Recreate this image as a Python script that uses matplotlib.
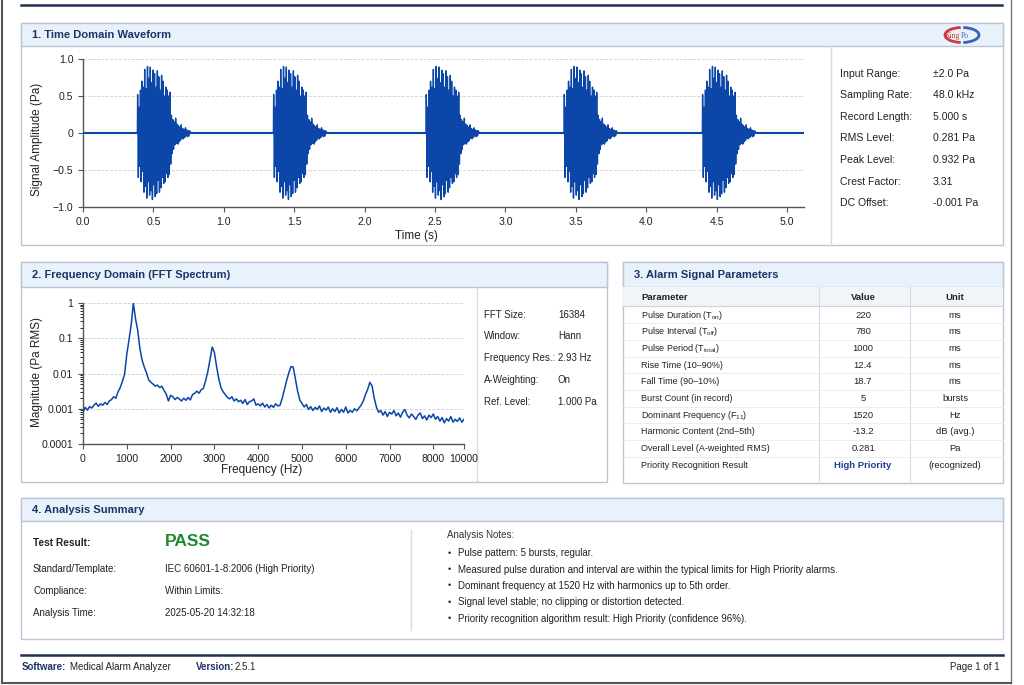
import matplotlib
matplotlib.use("Agg")
import matplotlib.pyplot as plt
from matplotlib.patches import Rectangle, Arc

plt.rcParams['font.family'] = ['Liberation Sans', 'DejaVu Sans']
plt.rcParams['mathtext.default'] = 'regular'

W, H = 1024, 685

# ---------------- data ----------------
# time domain: burst onsets (s) and the sampled burst shape (Pa), 5 ms apart
burst_starts = [0.388, 1.354, 2.438, 3.418, 4.400]
burst_step = 0.005
burst_values = [
    0.52, -0.60, 0.35, -0.45, 0.58, -0.66, 0.70, -0.52, 0.62, -0.80,
    0.86, -0.72, 0.60, -0.88, 0.90, -0.66, 0.74, -0.84, 0.89, -0.78,
    0.68, -0.90, 0.85, -0.70, 0.80, -0.86, 0.62, -0.82, 0.84, -0.64,
    0.76, -0.80, 0.58, -0.74, 0.78, -0.60, 0.70, -0.68, 0.50, -0.66,
    0.62, -0.55, 0.58, -0.60, 0.50, -0.56, 0.55, -0.42, 0.24, -0.28,
    0.18, -0.22, 0.15, -0.16, 0.20, -0.14, 0.12, -0.15, 0.10, -0.12,
    0.08, -0.10, 0.11, -0.07, 0.06, -0.08, 0.05, -0.06, 0.07, -0.04,
    0.04, -0.05, 0.03, -0.04, 0.03,
]
record_end = 5.12

time_ticks = [0, 0.5, 1.0, 1.5, 2.0, 2.5, 3.0, 3.5, 4.0, 4.5, 5.0]
time_ticklabels = ['0.0', '0.5', '1.0', '1.5', '2.0', '2.5', '3.0', '3.5', '4.0', '4.5', '5.0']
time_grid = [1, 2, 3, 4, 5]
amp_ticks = [-1.0, -0.5, 0, 0.5, 1.0]
amp_ticklabels = ['\u22121.0', '\u22120.5', '0', '0.5', '1.0']

# spectrum: FFT bins every 50 Hz, magnitude as log10(Pa RMS)
spec_freq = list(range(0, 8701, 50))
spec_log10 = [
    -3.10, -2.96, -3.04, -2.94, -2.98, -2.90, -2.84, -2.93, -2.86, -2.90,
    -2.82, -2.88, -2.78, -2.74, -2.66, -2.70, -2.52, -2.40, -2.22, -2.02,
    -1.45, -1.05, -0.62, 0.00, -0.45, -0.78, -1.30, -1.62, -1.82, -1.98,
    -2.18, -2.25, -2.30, -2.36, -2.33, -2.40, -2.36, -2.48, -2.58, -2.78,
    -2.62, -2.66, -2.74, -2.68, -2.72, -2.78, -2.70, -2.76, -2.68, -2.75,
    -2.60, -2.56, -2.50, -2.56, -2.46, -2.42, -2.20, -1.95, -1.60, -1.25,
    -1.40, -1.80, -2.15, -2.40, -2.52, -2.60, -2.68, -2.72, -2.66, -2.78,
    -2.72, -2.80, -2.76, -2.85, -2.74, -2.88, -2.80, -2.78, -2.72, -2.90,
    -2.86, -2.92, -2.84, -2.95, -2.88, -2.98, -2.90, -2.96, -2.86, -2.92,
    -2.90, -2.70, -2.45, -2.20, -1.98, -1.80, -1.82, -2.15, -2.50, -2.75,
    -2.85, -2.95, -2.88, -3.02, -2.94, -3.05, -2.96, -3.02, -2.92, -3.08,
    -2.98, -3.04, -2.95, -3.10, -3.00, -3.08, -2.97, -3.12, -3.02, -3.10,
    -2.95, -3.12, -3.05, -3.10, -3.00, -3.06, -2.98, -2.90, -2.78, -2.60,
    -2.45, -2.25, -2.35, -2.70, -2.95, -3.10, -3.05, -3.18, -3.08, -3.22,
    -3.10, -3.15, -3.05, -3.20, -3.12, -3.24, -3.10, -3.02, -3.18, -3.26,
    -3.15, -3.22, -3.30, -3.18, -3.12, -3.28, -3.20, -3.32, -3.18, -3.25,
    -3.15, -3.30, -3.22, -3.35, -3.25, -3.40, -3.28, -3.35, -3.22, -3.38,
    -3.30, -3.36, -3.26, -3.38, -3.30,
]
freq_ticks = [0, 1000, 2000, 3000, 4000, 5000, 6000, 7000, 8000, 8700]
freq_ticklabels = ['0', '1000', '2000', '3000', '4000', '5000', '6000', '7000', '8000', '10000']
freq_grid = [1000, 2000, 3000, 4000, 5000, 6000, 7000, 8000]
mag_ticks = [1e-4, 1e-3, 1e-2, 1e-1, 1]
mag_ticklabels = ['0.0001', '0.001', '0.01', '0.1', '1']

wave_info_labels = ['Input Range:', 'Sampling Rate:', 'Record Length:', 'RMS Level:',
                    'Peak Level:', 'Crest Factor:', 'DC Offset:']
wave_info_values = ['\u00b12.0 Pa', '48.0 kHz', '5.000 s', '0.281 Pa', '0.932 Pa', '3.31', '-0.001 Pa']

fft_info_labels = ['FFT Size:', 'Window:', 'Frequency Res.:', 'A-Weighting:', 'Ref. Level:']
fft_info_values = ['16384', 'Hann', '2.93 Hz', 'On', '1.000 Pa']

param_names = [r'Pulse Duration (T$_{on}$)', r'Pulse Interval (T$_{off}$)', r'Pulse Period (T$_{total}$)',
               'Rise Time (10\u201390%)', 'Fall Time (90\u201310%)', 'Burst Count (in record)',
               r'Dominant Frequency (F$_{11}$)', 'Harmonic Content (2nd\u20135th)',
               'Overall Level (A-weighted RMS)', 'Priority Recognition Result']
param_values = ['220', '780', '1000', '12.4', '18.7', '5', '1520', '-13.2', '0.281', 'High Priority']
param_units = ['ms', 'ms', 'ms', 'ms', 'ms', 'bursts', 'Hz', 'dB (avg.)', 'Pa', '(recognized)']

summary_labels = ['Standard/Template:', 'Compliance:', 'Analysis Time:']
summary_values = ['IEC 60601-1-8:2006 (High Priority)', 'Within Limits:', '2025-05-20 14:32:18']

notes = ['Pulse pattern: 5 bursts, regular.',
         'Measured pulse duration and interval are within the typical limits for High Priority alarms.',
         'Dominant frequency at 1520 Hz with harmonics up to 5th order.',
         'Signal level stable; no clipping or distortion detected.',
         'Priority recognition algorithm result: High Priority (confidence 96%).']

# ---------------- style ----------------
NAVY = '#1c3466'
BORDER = '#b9c6d8'
HEADER_BG = '#e9f1fb'
LINE = '#0b46a8'
TXT = '#222222'
GRIDC = '#cfcfcf'

fig = plt.figure(figsize=(W / 100, H / 100), dpi=100)
bg = fig.add_axes([0, 0, 1, 1])
bg.set_xlim(0, W)
bg.set_ylim(H, 0)
bg.axis('off')


def px_axes(x0, y0, x1, y1):
    return fig.add_axes([x0 / W, 1 - y1 / H, (x1 - x0) / W, (y1 - y0) / H])


def panel(x0, y0, x1, y1, hdr, title):
    bg.add_patch(Rectangle((x0, y0), x1 - x0, y1 - y0, facecolor='white', edgecolor=BORDER, lw=1.0))
    bg.add_patch(Rectangle((x0, y0), x1 - x0, hdr, facecolor=HEADER_BG, edgecolor=BORDER, lw=1.0))
    bg.text(x0 + 11, y0 + hdr / 2 + 0.5, title, fontsize=8, fontweight='bold', color=NAVY,
            ha='left', va='center')


# page frame and rules
bg.plot([2, 2], [0, 683], color='#555555', lw=1.5)
bg.plot([1011, 1011], [0, 683], color='#777777', lw=1.0)
bg.plot([2, 1011], [683, 683], color='#555555', lw=1.5)
bg.plot([21, 1002], [4.5, 4.5], color='#1f3050', lw=1.8)
bg.plot([21, 1003], [655, 655], color='#1f3050', lw=1.8)

# panels
panel(21, 23, 1003, 245, 23, '1. Time Domain Waveform')
panel(21, 262, 607, 482, 25, '2. Frequency Domain (FFT Spectrum)')
panel(623, 262, 1003, 483, 25, '3. Alarm Signal Parameters')
panel(21, 498, 1003, 639, 23, '4. Analysis Summary')

# logo
bg.add_patch(Arc((962, 35), 34, 15, theta1=100, theta2=260, color='#d0393b', lw=2.0))
bg.add_patch(Arc((962, 35), 34, 15, theta1=-80, theta2=80, color='#3a62b8', lw=2.0))
bg.text(960.5, 35.5, 'King', fontsize=5.5, color='#c0392b', ha='right', va='center',
        family=['Liberation Serif', 'DejaVu Serif'])
bg.text(960.5, 35.5, 'Po', fontsize=5.5, color='#3a62b8', ha='left', va='center',
        family=['Liberation Serif', 'DejaVu Serif'])

# ---------- panel 1 ----------
bg.plot([831, 831], [46, 245], color='#d5dbe5', lw=1.0)
for i, (lab, val) in enumerate(zip(wave_info_labels, wave_info_values)):
    y = 73.5 + i * 21.6
    bg.text(840, y, lab, fontsize=7.6, color=TXT, ha='left', va='center')
    bg.text(933, y, val, fontsize=7.6, color=TXT, ha='left', va='center')

t_list = [0.0]
v_list = [0.0]
for s in burst_starts:
    t_list.append(s - 0.002)
    v_list.append(0.0)
    for i, v in enumerate(burst_values):
        t_list.append(s + i * burst_step)
        v_list.append(v)
    t_list.append(s + len(burst_values) * burst_step)
    v_list.append(0.0)
t_list.append(record_end)
v_list.append(0.0)

ax1 = px_axes(83, 59, 804, 207)
ax1.axhline(0, color=LINE, lw=1.5, zorder=3)
ax1.plot(t_list, v_list, color=LINE, lw=1.0, zorder=4)
ax1.set_xlim(0, record_end)
ax1.set_ylim(-1, 1)
ax1.set_xticks(time_ticks)
ax1.set_xticklabels(time_ticklabels)
ax1.set_yticks(amp_ticks)
ax1.set_yticklabels(amp_ticklabels)
ax1.set_xticks(time_grid, minor=True)
ax1.tick_params(which='minor', length=0)
ax1.grid(True, which='minor', axis='x', color=GRIDC, ls='--', lw=0.6)
ax1.grid(True, which='major', axis='y', color=GRIDC, ls='--', lw=0.6)
bg.text(37, 139, 'Signal Amplitude (Pa)', rotation=90, fontsize=8.5, color=TXT, ha='center', va='center')
bg.text(416, 236, 'Time (s)', fontsize=8.5, color=TXT, ha='center', va='center')

# ---------- panel 2 ----------
bg.plot([477, 477], [287, 482], color='#d5dbe5', lw=1.0)
for i, (lab, val) in enumerate(zip(fft_info_labels, fft_info_values)):
    y = 314.5 + i * 21.8
    bg.text(484, y, lab, fontsize=7, color=TXT, ha='left', va='center')
    bg.text(558, y, val, fontsize=7, color=TXT, ha='left', va='center')

spec_mag = [10 ** v for v in spec_log10]
ax2 = px_axes(83, 303, 464, 444)
ax2.plot(spec_freq, spec_mag, color=LINE, lw=1.1, zorder=4)
ax2.set_yscale('log')
ax2.set_xlim(0, 8700)
ax2.set_ylim(1e-4, 1)
ax2.set_xticks(freq_ticks)
ax2.set_xticklabels(freq_ticklabels)
ax2.set_yticks(mag_ticks)
ax2.set_yticklabels(mag_ticklabels)
ax2.set_xticks(freq_grid, minor=True)
ax2.tick_params(axis='x', which='minor', length=0)
ax2.grid(True, which='minor', axis='x', color=GRIDC, ls='--', lw=0.6)
ax2.grid(True, which='major', axis='y', color=GRIDC, ls='--', lw=0.6)
bg.text(37, 372, 'Magnitude (Pa RMS)', rotation=90, fontsize=8.5, color=TXT, ha='center', va='center')
bg.text(262, 470, 'Frequency (Hz)', fontsize=8.5, color=TXT, ha='center', va='center')

for ax in (ax1, ax2):
    for side in ('top', 'right'):
        ax.spines[side].set_visible(False)
    for side in ('left', 'bottom'):
        ax.spines[side].set_color('#555555')
        ax.spines[side].set_linewidth(1.0)
    ax.tick_params(which='major', labelsize=7.6, colors='#555555', labelcolor=TXT, length=3.5)
    ax.set_facecolor('none')

# ---------- panel 3 (table) ----------
bg.add_patch(Rectangle((623, 287), 380, 19, facecolor='#f1f4f9', edgecolor='none'))
bg.plot([623, 1003], [306, 306], color='#c9d3e1', lw=0.8)
for xv in (819, 910):
    bg.plot([xv, xv], [287, 483], color='#d5dbe5', lw=0.8)
bg.text(641, 297, 'Parameter', fontsize=6.8, fontweight='bold', color=TXT, ha='left', va='center')
bg.text(863, 297, 'Value', fontsize=6.8, fontweight='bold', color=TXT, ha='center', va='center')
bg.text(955, 297, 'Unit', fontsize=6.8, fontweight='bold', color=TXT, ha='center', va='center')
for i, (nm, val, unit) in enumerate(zip(param_names, param_values, param_units)):
    y = 315 + i * 16.68
    if i < len(param_names) - 1:
        bg.plot([623, 1003], [y + 8.3, y + 8.3], color='#e6eaf0', lw=0.6)
    bg.text(641, y, nm, fontsize=6.5, color=TXT, ha='left', va='center')
    if val == 'High Priority':
        bg.text(863, y, val, fontsize=6.8, fontweight='bold', color='#1c3f94', ha='center', va='center')
    else:
        bg.text(863, y, val, fontsize=6.8, color=TXT, ha='center', va='center')
    bg.text(955, y, unit, fontsize=6.8, color=TXT, ha='center', va='center')

# ---------- panel 4 ----------
bg.plot([410.5, 410.5], [530, 630], color='#d5dbe5', lw=1.0)
bg.text(33, 542.5, 'Test Result:', fontsize=7.3, fontweight='bold', color=TXT, ha='left', va='center')
bg.text(165, 542, 'PASS', fontsize=12.5, fontweight='bold', color='#1e8a2e', ha='left', va='center')
for i, (lab, val) in enumerate(zip(summary_labels, summary_values)):
    y = [569.5, 590.5, 613.5][i]
    bg.text(33, y, lab, fontsize=7, color=TXT, ha='left', va='center')
    bg.text(165, y, val, fontsize=7, color=TXT, ha='left', va='center')

bg.text(447, 535, 'Analysis Notes:', fontsize=7, color='#333333', ha='left', va='center')
for i, note in enumerate(notes):
    y = 553.3 + i * 16.3
    bg.text(448, y, '\u2022', fontsize=6.5, color=TXT, ha='left', va='center')
    bg.text(457.5, y, note, fontsize=7, color=TXT, ha='left', va='center')

# ---------- footer ----------
bg.text(22, 666.5, 'Software:', fontsize=7, fontweight='bold', color=NAVY, ha='left', va='center')
bg.text(70, 666.5, 'Medical Alarm Analyzer', fontsize=7, color=TXT, ha='left', va='center')
bg.text(196, 666.5, 'Version:', fontsize=7, fontweight='bold', color=NAVY, ha='left', va='center')
bg.text(235, 666.5, '2.5.1', fontsize=7, color=TXT, ha='left', va='center')
bg.text(1000, 666.5, 'Page 1 of 1', fontsize=7, color=TXT, ha='right', va='center')

fig.savefig('out.png', dpi=100)
